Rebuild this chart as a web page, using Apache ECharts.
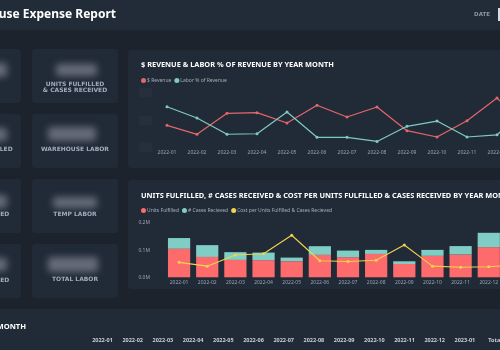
<!DOCTYPE html>
<html>
<head>
<meta charset="utf-8">
<script src="https://cdn.jsdelivr.net/npm/echarts@6/dist/echarts.min.js"></script>
<style>
  html, body { margin: 0; padding: 0; background: #1c232d; }
  #chart-container { width: 500px; height: 350px; }
</style>
</head>
<body>
<div id="chart-container"></div>
<script>
var dom = document.getElementById('chart-container');
var myChart = echarts.init(dom, null, { renderer: 'canvas' });

// data
const months = ['2022-01', '2022-02', '2022-03', '2022-04', '2022-05', '2022-06', '2022-07',
    '2022-08', '2022-09', '2022-10', '2022-11', '2022-12', '2023-01'];
const revenue = [579, 497, 688, 694, 600, 761, 655, 745, 530, 473, 621, 827, 555]; // $K
const laborPct = [33.9, 29.8, 23.9, 24.1, 32.0, 22.8, 22.8, 21.3, 26.8, 28.7, 22.9, 23.7, 33.5];
const unitsFulfilled = [105000, 75000, 64000, 63000, 59000, 82600, 74000, 86000, 49000, 79000, 84000, 111000, 90000];
const casesReceived = [39600, 43500, 28600, 28000, 13600, 32000, 24500, 15000, 10000, 22000, 31000, 53000, 30000];
const costPerUnit = [0.55, 0.41, 0.82, 0.87, 1.55, 0.61, 0.58, 0.63, 1.19, 0.41, 0.37, 0.39, 0.45];
const tableCols = months.concat(['Total']);

const panel = '#212a37';
const labelGrey = '#a3acbd';
const axisGrey = '#9aa2b1';

function txt(text, x, y, font, fill, align) {
    return {
        type: 'text',
        z: 5,
        style: {
            text: text, x: x, y: y, font: font, fill: fill,
            align: align || 'left', textAlign: align || 'left',
            verticalAlign: 'middle', textVerticalAlign: 'middle'
        }
    };
}
function box(x, y, w, h, fill, r) {
    return { type: 'rect', z: 0, shape: { x: x, y: y, width: w, height: h, r: r || 0 }, style: { fill: fill } };
}
// only the blurred shadow of an off-canvas rect is seen
function blob(x, y, w, h) {
    return {
        type: 'rect', z: 1,
        shape: { x: x - 1000, y: y, width: w, height: h, r: 3 },
        style: { fill: '#777d88', shadowBlur: 7, shadowOffsetX: 1000, shadowColor: 'rgba(125,131,143,0.75)' }
    };
}

const cardFont = 'bold 6px "DejaVu Sans"';
const graphics = [
    box(0, 0, 500, 30, '#222b38'),
    // KPI cards
    box(-70, 49, 91, 54, panel, 3), box(32, 49, 86, 54, panel, 3),
    box(-70, 114, 91, 54, panel, 3), box(32, 114, 86, 54, panel, 3),
    box(-70, 179, 91, 54, panel, 3), box(32, 179, 86, 54, panel, 3),
    box(-70, 244, 91, 54, panel, 3), box(32, 244, 86, 54, panel, 3),
    // chart panels
    box(128, 50, 380, 118, panel, 3),
    box(128, 180, 380, 109, panel, 3),
    box(-10, 309, 520, 50, panel, 3),
    // blurred KPI values
    blob(-30, 63, 37, 14), blob(56, 64, 41, 12),
    blob(-30, 128, 37, 13), blob(48, 127, 48, 14),
    blob(-30, 195, 37, 13), blob(53, 197, 44, 11),
    blob(-30, 258, 37, 13), blob(48, 257, 50, 15),
    // blurred y-axis labels of the revenue chart
    { type: 'rect', z: 1, shape: { x: 139, y: 88, width: 13, height: 9, r: 2 }, style: { fill: 'rgba(255,255,255,0.025)' } },
    { type: 'rect', z: 1, shape: { x: 139, y: 116, width: 13, height: 9, r: 2 }, style: { fill: 'rgba(255,255,255,0.025)' } },
    { type: 'rect', z: 1, shape: { x: 139, y: 142, width: 13, height: 10, r: 2 }, style: { fill: 'rgba(255,255,255,0.025)' } },
    // header
    txt('Warehouse Expense Report', 116, 15, 'bold 12px "Noto Sans"', '#ffffff', 'right'),
    txt('DATE', 490, 14.5, 'bold 5.5px "DejaVu Sans"', '#8c95a8', 'right'),
    { type: 'rect', z: 5, shape: { x: 498, y: 8, width: 4, height: 13 }, style: { fill: '#d9dce2' } },
    // card labels
    txt('UNITS FULFILLED', 75, 84, cardFont, labelGrey, 'center'),
    txt('& CASES RECEIVED', 75, 90.5, cardFont, labelGrey, 'center'),
    txt('WAREHOUSE LABOR', 75, 149, cardFont, labelGrey, 'center'),
    txt('TEMP LABOR', 75, 214, cardFont, labelGrey, 'center'),
    txt('TOTAL LABOR', 75, 279, cardFont, labelGrey, 'center'),
    txt('UNITS FULFILLED', 12.7, 149, cardFont, labelGrey, 'right'),
    txt('CASES RECEIVED', 9.3, 214, cardFont, labelGrey, 'right'),
    txt('COST PER UNIT FULFILLED', 9.3, 280, cardFont, labelGrey, 'right'),
    // panel titles
    txt('$ REVENUE & LABOR % OF REVENUE BY YEAR MONTH', 141, 65, 'bold 7.4px "Noto Sans"', '#ffffff'),
    txt('UNITS FULFILLED, # CASES RECEIVED & COST PER UNITS FULFILLED & CASES RECEIVED BY YEAR MONTH', 141, 195.5, 'bold 7.4px "Noto Sans"', '#ffffff'),
    txt('LABOR COST BY YEAR MONTH', 26, 327, 'bold 7.6px "Noto Sans"', '#ffffff', 'right')
];

const legendText = { color: labelGrey, fontSize: 5, fontFamily: 'Noto Sans', padding: [0, 0, 0, -4] };

option = {
    backgroundColor: '#1c232d',
    animation: false,
    textStyle: { fontFamily: 'Noto Sans' },
    graphic: { elements: graphics },
    legend: [{
            data: ['$ Revenue', 'Labor % of Revenue'],
            left: 141, top: 78, padding: 0,
            icon: 'circle', itemWidth: 5, itemHeight: 5, itemGap: 3,
            textStyle: legendText
        },
        {
            data: ['Units Fulfilled', '# Cases Recieved', 'Cost per Units Fulfilled & Cases Recieved'],
            left: 141, top: 208, padding: 0,
            icon: 'circle', itemWidth: 5, itemHeight: 5, itemGap: 3,
            textStyle: legendText
        }
    ],
    grid: [
        { left: 152, top: 90, width: 390, height: 55, outerBoundsMode: 'none', containLabel: false },
        { left: 165, top: 223, width: 366, height: 54.3, outerBoundsMode: 'none', containLabel: false },
        { left: 87.4, top: 320, width: 422.8, height: 12, outerBoundsMode: 'none', containLabel: false }
    ],
    xAxis: [{
            gridIndex: 0, type: 'category', data: months,
            axisLine: { show: false }, axisTick: { show: false },
            axisLabel: { interval: 0, color: axisGrey, fontSize: 5, margin: 5 }
        },
        {
            gridIndex: 1, type: 'category', data: months,
            axisLine: { show: false }, axisTick: { show: false },
            axisLabel: { interval: 0, color: axisGrey, fontSize: 5, margin: 3 }
        },
        {
            gridIndex: 2, type: 'category', data: tableCols,
            axisLine: { show: false }, axisTick: { show: false },
            axisLabel: { interval: 0, color: '#c9cfda', fontSize: 5.5, fontWeight: 'bold', margin: 5 }
        }
    ],
    yAxis: [
        { gridIndex: 0, type: 'value', min: 400, max: 900, show: false, splitLine: { show: false } },
        { gridIndex: 0, type: 'value', min: 20, max: 40, show: false, splitLine: { show: false } },
        {
            gridIndex: 1, type: 'value', min: 0, max: 200000, interval: 100000,
            axisLine: { show: false }, axisTick: { show: false }, splitLine: { show: false },
            axisLabel: {
                color: axisGrey, fontSize: 5, margin: 15,
                formatter: function(v) { return (v / 1e6).toFixed(1) + 'M'; }
            }
        },
        { gridIndex: 1, type: 'value', min: 0, max: 2, show: false, splitLine: { show: false } },
        { gridIndex: 2, type: 'value', show: false, splitLine: { show: false } }
    ],
    series: [{
            name: '$ Revenue', type: 'line', xAxisIndex: 0, yAxisIndex: 0,
            data: revenue, symbol: 'circle', symbolSize: 3,
            color: '#e3676a', lineStyle: { width: 1.2 }
        },
        {
            name: 'Labor % of Revenue', type: 'line', xAxisIndex: 0, yAxisIndex: 1,
            data: laborPct, symbol: 'circle', symbolSize: 3,
            color: '#7ecbc2', lineStyle: { width: 1.2 }
        },
        {
            name: 'Units Fulfilled', type: 'bar', xAxisIndex: 1, yAxisIndex: 2, stack: 'u',
            data: unitsFulfilled, barCategoryGap: '21%', color: '#fd6b6c'
        },
        {
            name: '# Cases Recieved', type: 'bar', xAxisIndex: 1, yAxisIndex: 2, stack: 'u',
            data: casesReceived, barCategoryGap: '21%', color: '#7fcdc4'
        },
        {
            name: 'Cost per Units Fulfilled & Cases Recieved', type: 'line', xAxisIndex: 1, yAxisIndex: 3,
            data: costPerUnit, symbol: 'circle', symbolSize: 3, z: 5,
            color: '#f0d44c', lineStyle: { width: 1.1 }
        }
    ]
};

myChart.setOption(option);
</script>
</body>
</html>
